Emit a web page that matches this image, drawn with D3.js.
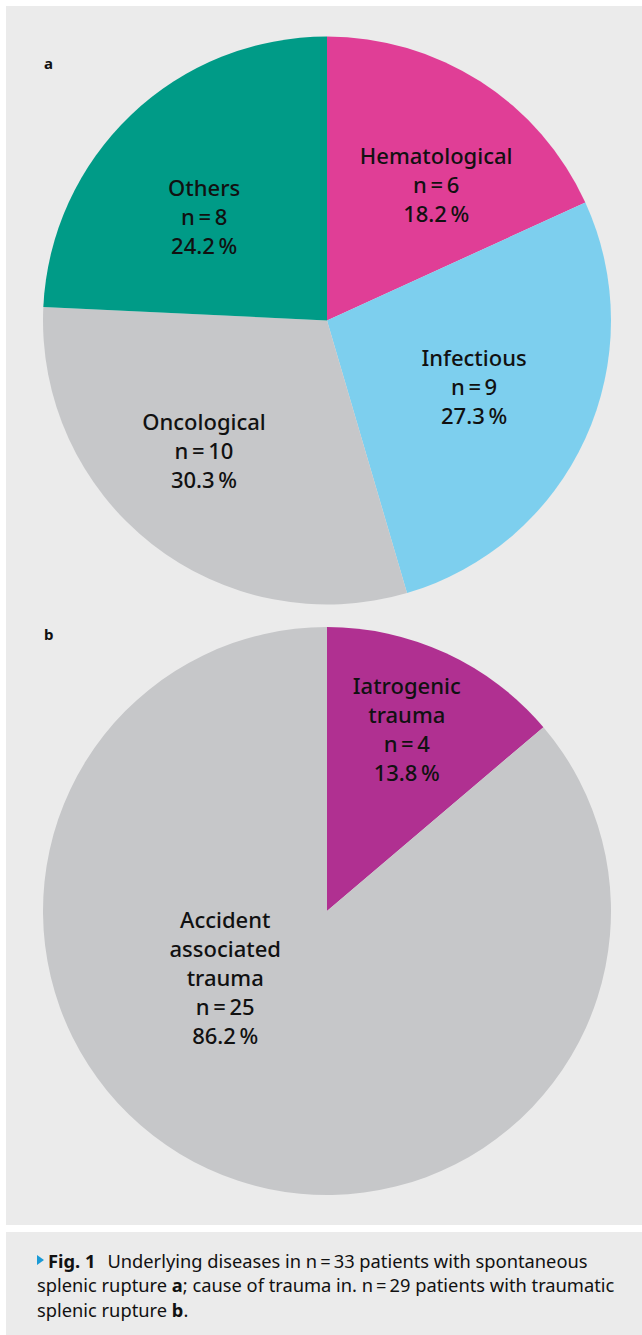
<!DOCTYPE html>
<html>
<head>
<meta charset="utf-8">
<script src="https://cdn.jsdelivr.net/npm/d3@7"></script>
<style>
  body { margin: 0; background: #fff; }
  svg text { font-family: "Noto Sans", "DejaVu Sans", sans-serif; fill: #111; }
</style>
</head>
<body>
<script>
// panel a: underlying diseases, spontaneous rupture (n = 33)
var catsA = ["Hematological", "Infectious", "Oncological", "Others"];
var countsA = [6, 9, 10, 8];
var pctA = ["18.2\u2009%", "27.3\u2009%", "30.3\u2009%", "24.2\u2009%"];

// panel b: cause of trauma (n = 29)
var catsB = ["Iatrogenic trauma", "Accident associated trauma"];
var countsB = [4, 25];
var pctB = ["13.8\u2009%", "86.2\u2009%"];

var colorsA = ["#e03e96", "#7dcfee", "#c6c7c9", "#009b87"];
var colorsB = ["#b03091", "#c6c7c9"];

var W = 642, H = 1335;
var svg = d3.select("body").append("svg").attr("width", W).attr("height", H);

svg.append("rect").attr("x", 6).attr("y", 6).attr("width", W - 6).attr("height", 1219).attr("fill", "#ebebeb");
svg.append("rect").attr("x", 6).attr("y", 1232).attr("width", W - 6).attr("height", H - 1232).attr("fill", "#ebebeb");

var R = 284;
var pie = d3.pie().sort(null).value(function(d){ return d.n; });
var arc = d3.arc().innerRadius(0).outerRadius(R);

// label wrapping + nudges (layout only)
var labelLines = {
  "Iatrogenic trauma": ["Iatrogenic", "trauma"],
  "Accident associated trauma": ["Accident", "associated", "trauma"]
};
var nudge = {
  "Hematological": [20, 10], "Infectious": [-3, 5], "Oncological": [-21, 8], "Others": [-9, 23],
  "Iatrogenic trauma": [0, -2], "Accident associated trauma": [-22, -98]
};

function drawPie(cx, cy, cats, counts, pcts, colors, letter, letterY, labelR) {
  var data = cats.map(function(c, i){ return {cat: c, n: counts[i], pct: pcts[i], col: colors[i]}; });
  var g = svg.append("g").attr("transform", "translate(" + cx + "," + cy + ")");
  var arcs = pie(data);
  g.selectAll("path").data(arcs).enter().append("path")
    .attr("d", arc)
    .attr("fill", function(d){ return d.data.col; });

  var lab = d3.arc().innerRadius(labelR).outerRadius(labelR);
  arcs.forEach(function(d){
    var c = lab.centroid(d);
    var nd = nudge[d.data.cat] || [0, 0];
    var lines = (labelLines[d.data.cat] || [d.data.cat]).concat(["n\u2009=\u2009" + d.data.n, d.data.pct]);
    var lh = 29;
    var t = g.append("text").attr("text-anchor", "middle").attr("font-size", 22).attr("font-weight", 500);
    lines.forEach(function(s, i){
      t.append("tspan").attr("x", c[0] + nd[0])
        .attr("y", c[1] + nd[1] + (i - (lines.length - 1) / 2) * lh + 1)
        .text(s);
    });
  });

  svg.append("text").attr("x", 44).attr("y", letterY)
    .attr("font-size", 15).attr("font-weight", "bold").text(letter);
}

drawPie(327, 320.5, catsA, countsA, pctA, colorsA, "a", 69, 165);
drawPie(327, 911, catsB, countsB, pctB, colorsB, "b", 640, 190);

// caption
var cap = svg.append("g").attr("font-size", 18.3);
cap.append("path").attr("d", "M37,1255 L44,1260 L37,1265 Z").attr("fill", "#1a9ad6");
var l1 = cap.append("text").attr("x", 48).attr("y", 1268);
l1.append("tspan").attr("font-weight", "bold").text("Fig. 1");
l1.append("tspan").attr("dx", 12).text("Underlying diseases in n\u2009=\u200933 patients with spontaneous");
var l2 = cap.append("text").attr("x", 37).attr("y", 1292);
l2.append("tspan").text("splenic rupture ");
l2.append("tspan").attr("font-weight", "bold").text("a");
l2.append("tspan").text("; cause of trauma in. n\u2009=\u200929 patients with traumatic");
var l3 = cap.append("text").attr("x", 37).attr("y", 1317);
l3.append("tspan").text("splenic rupture ");
l3.append("tspan").attr("font-weight", "bold").text("b");
l3.append("tspan").text(".");
</script>
</body>
</html>
